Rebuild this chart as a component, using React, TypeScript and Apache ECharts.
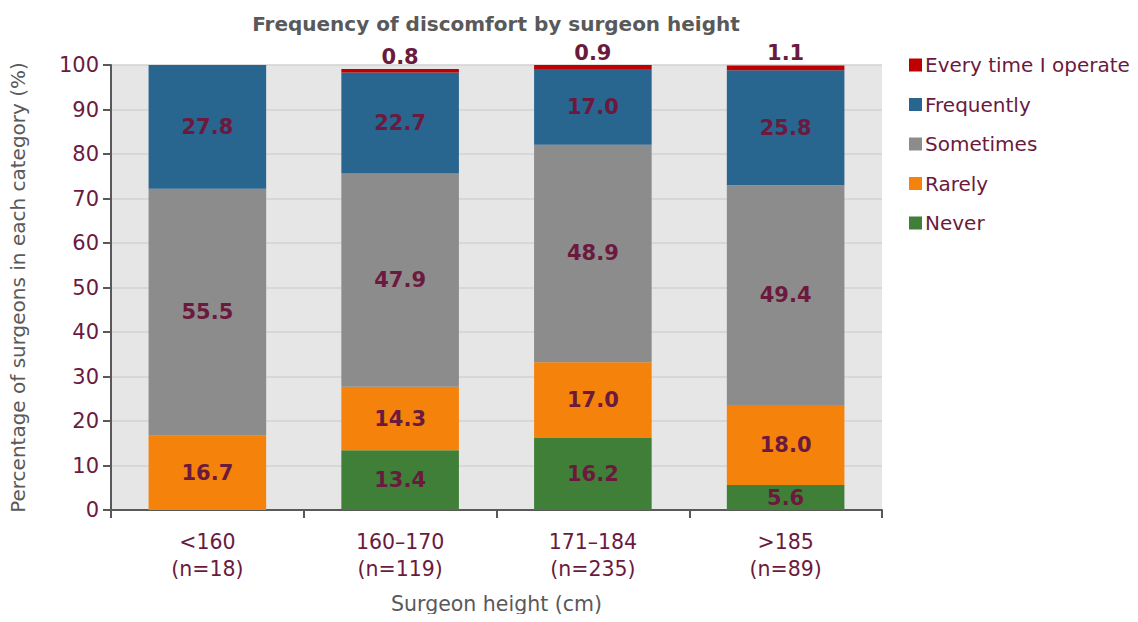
import React, { useEffect, useRef } from "react";
import * as echarts from "echarts";

const categories = ["<160\n(n=18)", "160–170\n(n=119)", "171–184\n(n=235)", ">185\n(n=89)"];
const never = [0, 13.4, 16.2, 5.6];
const rarely = [16.7, 14.3, 17.0, 18.0];
const sometimes = [55.5, 47.9, 48.9, 49.4];
const frequently = [27.8, 22.7, 17.0, 25.8];
const everyTime = [0, 0.8, 0.9, 1.1];
const yTicks = [0, 10, 20, 30, 40, 50, 60, 70, 80, 90, 100];

const FONT = "DejaVu Sans";
const LABEL_COLOR = "#6B1A3E";

export default function App() {
  const ref = useRef<HTMLDivElement>(null);
  useEffect(() => {
    if (!ref.current) return;
    const chart = echarts.init(ref.current, null, { renderer: "svg" });
    const fmt = (p: any) => (p.value ? Number(p.value).toFixed(1) : "");
    const mk = (name: string, data: number[], color: string, pos: string) => ({
      name,
      type: "bar",
      stack: "total",
      barWidth: "61%",
      data,
      itemStyle: { color },
      label: {
        show: true,
        position: pos,
        formatter: fmt,
        color: LABEL_COLOR,
        fontFamily: FONT,
        fontWeight: "bold",
        fontSize: 21,
        distance: 2,
      },
    });
    chart.setOption({
      animation: false,
      textStyle: { fontFamily: FONT },
      title: {
        text: "Frequency of discomfort by surgeon height",
        left: 491,
        textAlign: "center",
        top: 9,
        textStyle: { fontFamily: FONT, fontWeight: "bold", fontSize: 20, color: "#595959" },
      },
      legend: {
        orient: "vertical",
        left: 904,
        top: 50,
        itemGap: 19.5,
        itemWidth: 13,
        itemHeight: 13,
        icon: "rect",
        data: ["Every time I operate", "Frequently", "Sometimes", "Rarely", "Never"],
        textStyle: { fontFamily: FONT, fontSize: 20, color: LABEL_COLOR, padding: [0, 0, 0, -2] },
      },
      grid: { left: 110, right: 256, top: 65, bottom: 112, show: true, backgroundColor: "#E6E6E6", borderWidth: 0 },
      xAxis: {
        type: "category",
        data: categories,
        name: "Surgeon height (cm)",
        nameLocation: "middle",
        nameGap: 83,
        nameTextStyle: { fontFamily: FONT, fontSize: 20.5, color: "#595959" },
        axisLine: { lineStyle: { color: "#595959", width: 2 } },
        axisTick: { show: true, length: 8, lineStyle: { color: "#595959", width: 2 } },
        axisLabel: { fontFamily: FONT, fontSize: 20.5, color: LABEL_COLOR, margin: 18, lineHeight: 27 },
      },
      yAxis: {
        type: "value",
        min: yTicks[0],
        max: yTicks[yTicks.length - 1],
        interval: 10,
        name: "Percentage of surgeons in each category (%)",
        nameLocation: "middle",
        nameGap: 83,
        nameTextStyle: { fontFamily: FONT, fontSize: 20, color: "#595959" },
        axisLine: { show: true, lineStyle: { color: "#595959", width: 2 } },
        axisTick: { show: true, length: 8, lineStyle: { color: "#595959", width: 2 } },
        axisLabel: { fontFamily: FONT, fontSize: 21, color: LABEL_COLOR, margin: 12 },
        splitLine: { lineStyle: { color: "#D2D2D2", width: 1.5 } },
      },
      series: [
        mk("Never", never, "#3F7F37", "inside"),
        mk("Rarely", rarely, "#F5820A", "inside"),
        mk("Sometimes", sometimes, "#8C8C8C", "inside"),
        mk("Frequently", frequently, "#28658F", "inside"),
        mk("Every time I operate", everyTime, "#C00000", "top"),
      ],
    });
    return () => chart.dispose();
  }, []);
  return <div ref={ref} style={{ width: 1138, height: 622, margin: -8, background: "#fff" }} />;
}
